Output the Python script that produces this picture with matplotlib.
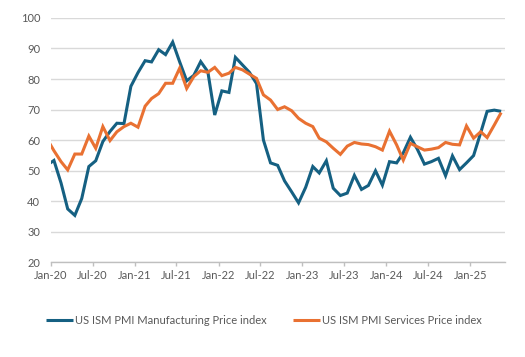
import matplotlib
matplotlib.use("Agg")
import matplotlib.pyplot as plt
import matplotlib.dates as mdates
import pandas as pd

# monthly readings, Dec-2019 .. May-2025 (Dec-19 only feeds the clipped start of the line)
start_month = "2019-12-01"
end_month = "2025-05-01"

manufacturing = [
    51.7,
    53.3, 45.9, 37.4, 35.3, 40.8, 51.3, 53.2, 59.5, 62.8, 65.5, 65.4, 77.6,
    82.1, 86.0, 85.6, 89.6, 88.0, 92.1, 85.7, 79.4, 81.2, 85.7, 82.4, 68.2,
    76.1, 75.6, 87.1, 84.6, 82.2, 78.5, 60.0, 52.5, 51.7, 46.6, 43.0, 39.4,
    44.5, 51.3, 49.2, 53.2, 44.2, 41.8, 42.6, 48.4, 43.8, 45.1, 49.9, 45.2,
    52.9, 52.5, 55.8, 60.9, 57.0, 52.1, 52.9, 54.0, 48.3, 54.8, 50.3, 52.5,
    54.9, 62.4, 69.4, 69.8, 69.4,
]
services = [
    60.5,
    56.5, 52.9, 50.2, 55.4, 55.4, 61.3, 57.3, 64.4, 59.8, 62.7, 64.4, 65.5,
    64.2, 71.1, 73.6, 75.2, 78.6, 78.6, 83.5, 76.9, 80.8, 82.7, 82.2, 83.8,
    81.1, 81.9, 83.8, 83.0, 81.6, 80.2, 74.8, 73.1, 70.0, 70.9, 69.6, 67.1,
    65.5, 64.4, 60.6, 59.4, 57.3, 55.3, 58.0, 59.2, 58.7, 58.5, 57.8, 56.7,
    62.9, 58.4, 53.4, 58.9, 57.8, 56.7, 57.0, 57.5, 59.2, 58.6, 58.4, 64.6,
    60.6, 62.7, 60.8, 64.9, 69.0,
]
series_names = ["US ISM PMI Manufacturing Price index",
                "US ISM PMI Services Price index"]
series_colors = ["#156082", "#E97132"]

dates = pd.date_range(start_month, end_month, freq="MS") + pd.Timedelta(days=14)
tick_dates = pd.date_range("2020-01-01", "2025-01-01", freq="6MS")

grey_text = "#595959"
plt.rcParams["font.family"] = ["Lato", "DejaVu Sans"]

fig = plt.figure(figsize=(5.25, 3.57), dpi=100)
ax = fig.add_axes([0.0966, 0.266, 0.8654, 0.6836])

for vals, name, col in zip([manufacturing, services], series_names, series_colors):
    ax.plot(dates, vals, color=col, lw=2.2, label=name,
            solid_joinstyle="miter", solid_capstyle="butt")

ax.set_ylim(20, 100)
ax.set_yticks(range(20, 101, 10))
ax.set_xlim(pd.Timestamp("2020-01-01"), pd.Timestamp("2025-06-01"))
ax.set_xticks(tick_dates)
ax.xaxis.set_major_formatter(mdates.DateFormatter("%b-%y"))

ax.grid(axis="y", color="#D9D9D9", lw=1.0)
ax.set_axisbelow(True)
for s in ["top", "right", "left"]:
    ax.spines[s].set_visible(False)
ax.spines["bottom"].set_color("#BFBFBF")
ax.spines["bottom"].set_linewidth(1.0)

ax.tick_params(axis="y", length=0, pad=7.5, labelsize=8, labelcolor=grey_text)
ax.tick_params(axis="x", length=3, width=1, color="#BFBFBF", pad=3,
               labelsize=8, labelcolor=grey_text)

fig.legend(loc="center", bbox_to_anchor=(264 / 525, 1 - 320.7 / 357), ncol=2,
           frameon=False, fontsize=8, labelcolor=grey_text,
           handlelength=2.4, handletextpad=0.2, columnspacing=2.4)

fig.savefig("out.png", dpi=100)
